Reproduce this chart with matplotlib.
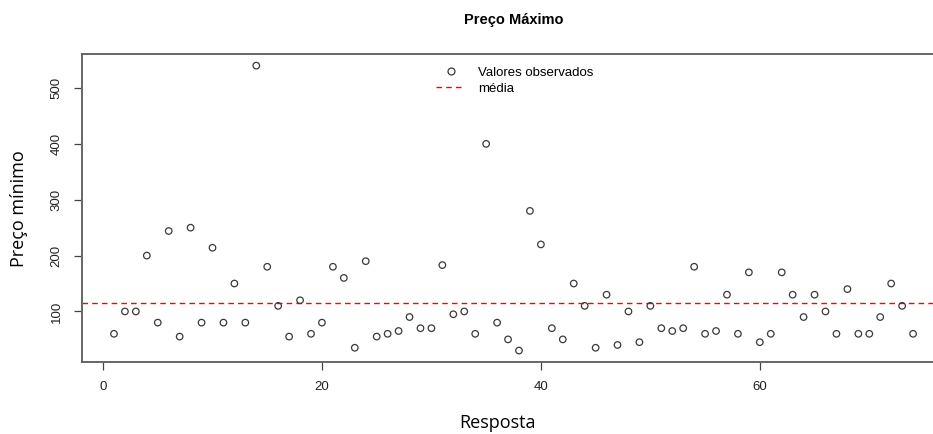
import matplotlib
matplotlib.use("Agg")
import matplotlib.pyplot as plt
import numpy as np
from matplotlib.lines import Line2D

# valores (resposta 1..74)
precos = [60, 100, 100, 200, 80, 244, 55, 250, 80, 214, 80, 150, 80, 540, 180, 110, 55, 120,
          60, 80, 180, 160, 35, 190, 55, 60, 65, 90, 70, 70, 183, 95, 100, 60, 400, 80, 50,
          30, 280, 220, 70, 50, 150, 110, 35, 130, 40, 100, 45, 110, 70, 65, 70, 180, 60, 65,
          130, 60, 170, 45, 60, 170, 130, 90, 130, 100, 60, 140, 60, 60, 90, 150, 110, 60]
respostas = np.arange(1, len(precos) + 1)
x_ticks = [0, 20, 40, 60]
y_ticks = [100, 200, 300, 400, 500]
titulo = "Preço Máximo"
rotulo_x = "Resposta"
rotulo_y = "Preço mínimo"
legenda = ["Valores observados", "média"]

media = float(np.mean(precos))

plt.rcParams["font.family"] = ["Liberation Sans", "DejaVu Sans"]

fig = plt.figure(figsize=(9.33, 4.34), dpi=100)
# the right side of the original plot is cut off by the image edge
ax = fig.add_axes([0.0879, 0.166, 0.925, 0.709])

ax.scatter(respostas, precos, s=22, facecolors="none", edgecolors="#3a3a3a", linewidths=0.9, zorder=3)
ax.axhline(media, color="red", linestyle=(0, (4, 3)), linewidth=1.0)

# R style limits: data range extended by 4%
xr = respostas.max() - respostas.min()
yr = max(precos) - min(precos)
ax.set_xlim(respostas.min() - 0.04 * xr, respostas.max() + 0.04 * xr)
ax.set_ylim(min(precos) - 0.04 * yr, max(precos) + 0.04 * yr)

for s in ax.spines.values():
    s.set_color("#666666")
    s.set_linewidth(1.4)

ax.set_xticks(x_ticks)
ax.set_yticks(y_ticks)
ax.tick_params(axis="both", length=6, width=0.9, color="#444444", labelsize=9.5, labelcolor="#222222", pad=8)
for lbl in ax.get_yticklabels():
    lbl.set_rotation(90)
    lbl.set_va("center")

fig.text(0.551, 0.953, titulo, ha="center", va="center", fontsize=10.5, fontweight="bold")
fig.text(0.533, 0.026, rotulo_x, ha="center", va="center", fontsize=13, family=["Open Sans", "DejaVu Sans"])
fig.text(0.02, 0.52, rotulo_y, ha="center", va="center", rotation=90, fontsize=13,
         family=["Open Sans", "DejaVu Sans"])

handles = [
    Line2D([], [], linestyle="none", marker="o", markerfacecolor="none", markeredgecolor="#3a3a3a",
           markersize=5, markeredgewidth=0.9),
    Line2D([], [], color="red", linestyle=(0, (4, 3)), linewidth=1.0),
]
ax.legend(handles, legenda, loc="upper left", bbox_to_anchor=(0.398, 0.995), frameon=False,
          fontsize=9.5, handlelength=2.2, handletextpad=1.0, labelspacing=0.3, borderaxespad=0.4)

fig.savefig("out.png", dpi=100)
